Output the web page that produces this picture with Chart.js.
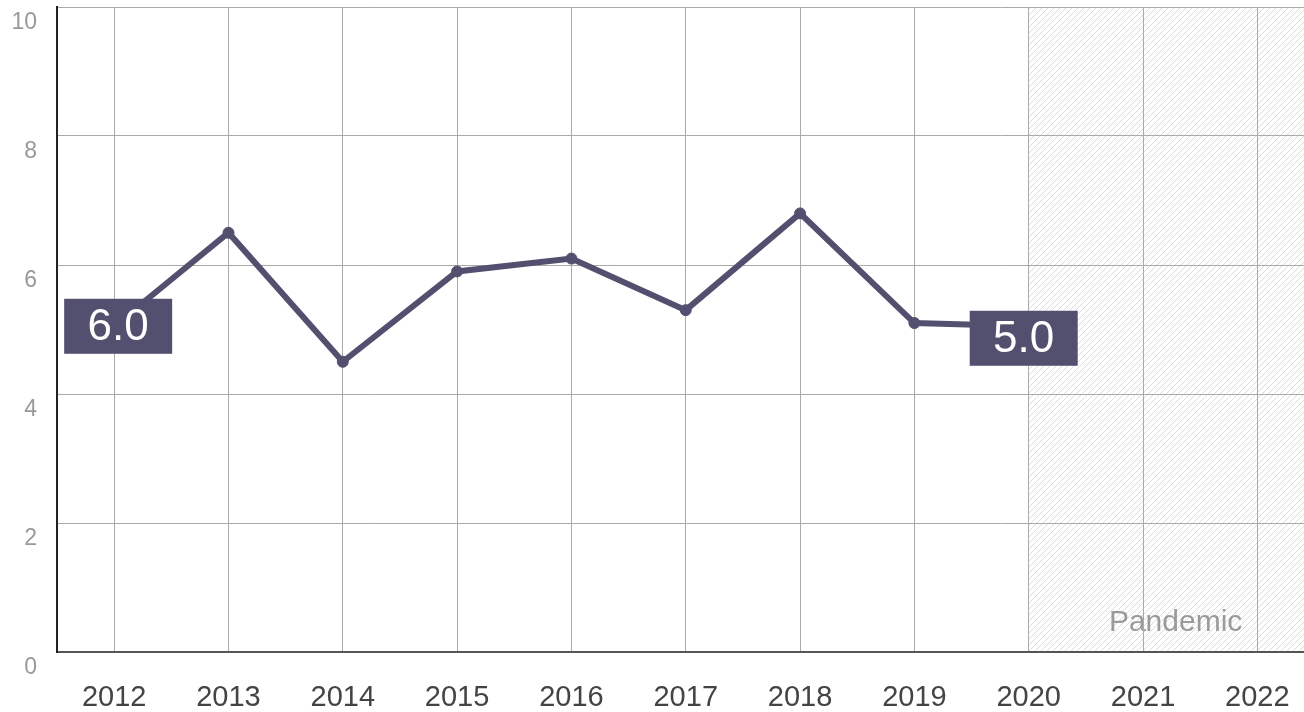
<!DOCTYPE html>
<html>
<head>
<meta charset="utf-8">
<script src="https://cdn.jsdelivr.net/npm/chart.js@4"></script>
<style>
  html, body { margin: 0; padding: 0; background: #fff; overflow: hidden; }
  #wrap { position: relative; width: 1321px; height: 712px; }
</style>
</head>
<body>
<div id="wrap"><canvas id="chart"></canvas></div>
<script>
// Chart data.
const years = ["2012", "2013", "2014", "2015", "2016", "2017", "2018", "2019", "2020", "2021", "2022"];
const values = [5.05, 6.5, 4.5, 5.9, 6.1, 5.3, 6.8, 5.1, 5.05, null, null];
const callouts = ["6.0", null, null, null, null, null, null, null, "5.0", null, null];
const yTicks = [0, 2, 4, 6, 8, 10];
const shadedFrom = "2020";
const shadedLabel = "Pandemic";

const FONT = "'Liberation Sans', Arial, sans-serif";
const LINE = "#52506e";

// Diagonal hatch pattern for the shaded period.
function makeHatch() {
  const c = document.createElement("canvas");
  c.width = 6; c.height = 6;
  const g = c.getContext("2d");
  g.strokeStyle = "#dcdcdc";
  g.lineWidth = 1;
  g.beginPath();
  g.moveTo(0, 6); g.lineTo(6, 0);
  g.moveTo(-3, 3); g.lineTo(3, -3);
  g.moveTo(3, 9); g.lineTo(9, 3);
  g.stroke();
  return c;
}

// Shaded region + its label, drawn under the grid.
const shadePlugin = {
  id: "shade",
  beforeDraw(chart) {
    const { ctx, chartArea, scales } = chart;
    const x0 = scales.x.getPixelForValue(years.indexOf(shadedFrom));
    ctx.save();
    ctx.fillStyle = ctx.createPattern(makeHatch(), "repeat");
    ctx.fillRect(x0, chartArea.top, chartArea.right - x0, chartArea.bottom - chartArea.top);
    ctx.fillStyle = "#9a9a9a";
    ctx.font = "30px " + FONT;
    ctx.textAlign = "center";
    ctx.textBaseline = "alphabetic";
    ctx.fillText(shadedLabel, (x0 + chartArea.right) / 2 + 4, chartArea.bottom - 21);
    ctx.restore();
  }
};

// Boxed value labels on top of the line.
const calloutPlugin = {
  id: "callouts",
  afterDatasetsDraw(chart, args, opts) {
    const { ctx } = chart;
    const meta = chart.getDatasetMeta(0);
    ctx.save();
    ctx.font = "44px " + FONT;
    ctx.textAlign = "center";
    ctx.textBaseline = "middle";
    callouts.forEach((txt, i) => {
      if (!txt) return;
      const pt = meta.data[i];
      const off = opts.offsets[i] || [0, 0];
      const cx = pt.x + off[0], cy = pt.y + off[1];
      ctx.fillStyle = LINE;
      ctx.fillRect(cx - 54, cy - 27.5, 108, 55);
      ctx.fillStyle = "#fff";
      ctx.fillText(txt, cx, cy + 2);
    });
    ctx.restore();
  }
};

new Chart(document.getElementById("chart"), {
  type: "line",
  data: {
    labels: years,
    datasets: [{
      data: values,
      borderColor: LINE,
      backgroundColor: LINE,
      borderWidth: 6,
      pointRadius: 5.5,
      pointBorderWidth: 1,
      tension: 0,
      spanGaps: false
    }]
  },
  options: {
    responsive: true,
    maintainAspectRatio: false,
    animation: false,
    layout: { padding: { top: 7, left: 0, right: 0, bottom: 0 } },
    plugins: {
      legend: { display: false },
      tooltip: { enabled: false },
      callouts: { offsets: { 0: [4, 0], 8: [-5, 12] } }
    },
    scales: {
      x: {
        offset: true,
        grid: { color: "#aaaaaa", lineWidth: 1, drawTicks: false, offset: false },
        border: { color: "#555555", width: 2 },
        ticks: { color: "#444444", font: { family: FONT, size: 29 }, padding: 29, maxRotation: 0, autoSkip: false },
        afterFit(scale) { scale.height = 60; scale.paddingLeft = 0; scale.paddingRight = 0; }
      },
      y: {
        min: 0,
        max: 10,
        afterBuildTicks(scale) { scale.ticks = yTicks.map(v => ({ value: v })); },
        grid: { color: "#aaaaaa", lineWidth: 1, drawTicks: false },
        border: { color: "#222222", width: 2 },
        ticks: { color: "#999999", font: { family: FONT, size: 23 }, padding: 20, labelOffset: 16 },
        afterFit(scale) { scale.width = 57; scale.paddingTop = 0; scale.paddingBottom = 0; }
      }
    }
  },
  plugins: [shadePlugin, calloutPlugin]
});
</script>
</body>
</html>
